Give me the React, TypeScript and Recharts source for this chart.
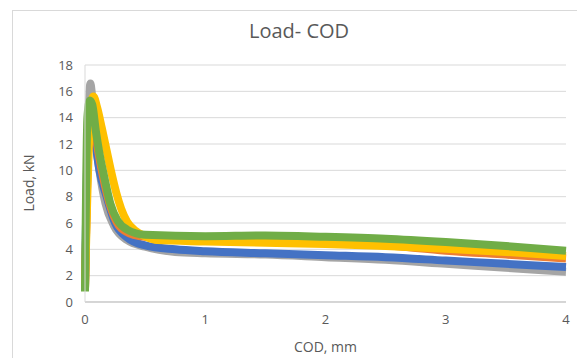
import { LineChart, Line, XAxis, YAxis, CartesianGrid } from 'recharts'

const X_TICKS = [0, 1, 2, 3, 4]
const Y_TICKS = [0, 2, 4, 6, 8, 10, 12, 14, 16, 18]

// COD (mm) / load (kN) readings for each specimen
const greyX = [0.0, 0.03, 0.045, 0.055, 0.08, 0.12, 0.17, 0.24, 0.35, 0.5, 0.75, 1.0, 1.5, 2.0, 2.5, 3.0, 3.5, 4.0]
const greyY = [1, 14.5, 16.6, 16.0, 13, 10, 7.5, 5.8, 4.7, 4.2, 3.8, 3.7, 3.6, 3.4, 3.2, 2.9, 2.6, 2.3]

const blueX = [0.0, 0.03, 0.05, 0.08, 0.12, 0.18, 0.25, 0.35, 0.5, 0.75, 1.0, 1.5, 2.0, 2.5, 3.0, 3.5, 4.0]
const blueY = [1, 14, 14.3, 12.5, 10, 8.0, 6.0, 4.9, 4.3, 4.0, 3.85, 3.7, 3.55, 3.4, 3.15, 2.9, 2.65]

const orangeX = [0.0, 0.04, 0.06, 0.1, 0.15, 0.22, 0.3, 0.45, 0.7, 1.0, 1.5, 2.0, 2.5, 3.0, 3.5, 4.0]
const orangeY = [1, 14.5, 14.8, 12, 9.5, 7, 5.6, 5.0, 4.8, 4.8, 4.75, 4.6, 4.3, 3.9, 3.6, 3.3]

const yellowX = [0.0, 0.05, 0.07, 0.1, 0.14, 0.18, 0.22, 0.26, 0.3, 0.35, 0.42, 0.5, 0.6, 1.0, 1.5, 2.0, 2.5, 3.0, 3.5, 4.0]
const yellowY = [1, 15, 15.6, 14.8, 13.2, 11.5, 9.8, 8.3, 7.1, 6.1, 5.4, 5.0, 4.7, 4.6, 4.5, 4.4, 4.25, 4.05, 3.8, 3.5]

const greenX = [0.0, 0.02, 0.04, 0.06, 0.09, 0.12, 0.16, 0.21, 0.27, 0.35, 0.5, 1.0, 1.5, 2.0, 2.5, 3.0, 3.5, 4.0]
const greenY = [0.8, 14, 15.3, 15, 13, 11.3, 9.5, 7.5, 6.2, 5.5, 5.1, 5.0, 5.05, 4.95, 4.8, 4.55, 4.25, 3.9]

const zip = (xs: number[], ys: number[]) => xs.map((x, i) => ({ x, y: ys[i] }))

const SERIES = [
  { name: 'grey', color: '#a5a5a5', data: zip(greyX, greyY) },
  { name: 'blue', color: '#4472c4', data: zip(blueX, blueY) },
  { name: 'orange', color: '#ed7d31', data: zip(orangeX, orangeY) },
  { name: 'yellow', color: '#ffc000', data: zip(yellowX, yellowY) },
  { name: 'green', color: '#70ad47', data: zip(greenX, greenY) },
]

const FONT = '"Open Sans", "Liberation Sans", sans-serif'
const TEXT = '#595959'

export default function App() {
  return (
    <div style={{ position: 'absolute', left: 0, top: 0, width: 577, height: 358, background: '#fff', overflow: 'hidden', fontFamily: FONT }}>
      {/* chart area frame */}
      <div style={{ position: 'absolute', left: 12, top: 10, width: 600, height: 400, border: '1px solid #d9d9d9' }} />
      <div style={{ position: 'absolute', left: 0, width: 598, top: 17, textAlign: 'center', fontSize: 20, color: TEXT }}>Load- COD</div>
      <div style={{ position: 'absolute', left: 85, width: 481, top: 337, textAlign: 'center', fontSize: 14, color: TEXT }}>COD, mm</div>
      <div style={{ position: 'absolute', left: 28, top: 183, transform: 'translate(-50%, -50%) rotate(-90deg)', fontSize: 14, color: TEXT, whiteSpace: 'nowrap' }}>Load, kN</div>
      <LineChart
        width={577}
        height={358}
        margin={{ top: 65, right: 11, bottom: 0, left: 15 }}
        style={{ position: 'absolute', left: 0, top: 0 }}
      >
        <CartesianGrid vertical={false} stroke="#d9d9d9" />
        <XAxis
          dataKey="x"
          type="number"
          domain={[0, 4]}
          ticks={X_TICKS}
          interval={0}
          allowDuplicatedCategory={false}
          tickLine={false}
          tickMargin={7}
          stroke="#bfbfbf"
          tick={{ fill: TEXT, fontSize: 13, fontFamily: FONT }}
          height={56}
        />
        <YAxis
          type="number"
          domain={[0, 18]}
          ticks={Y_TICKS}
          interval={0}
          tickLine={false}
          tickMargin={6}
          stroke="#d9d9d9"
          tick={{ fill: TEXT, fontSize: 13, fontFamily: FONT }}
          width={70}
        />
        {SERIES.map(s => (
          <Line
            key={s.name}
            data={s.data}
            dataKey="y"
            type="monotone"
            stroke={s.color}
            strokeWidth={8}
            dot={false}
            isAnimationActive={false}
          />
        ))}
      </LineChart>
    </div>
  )
}
